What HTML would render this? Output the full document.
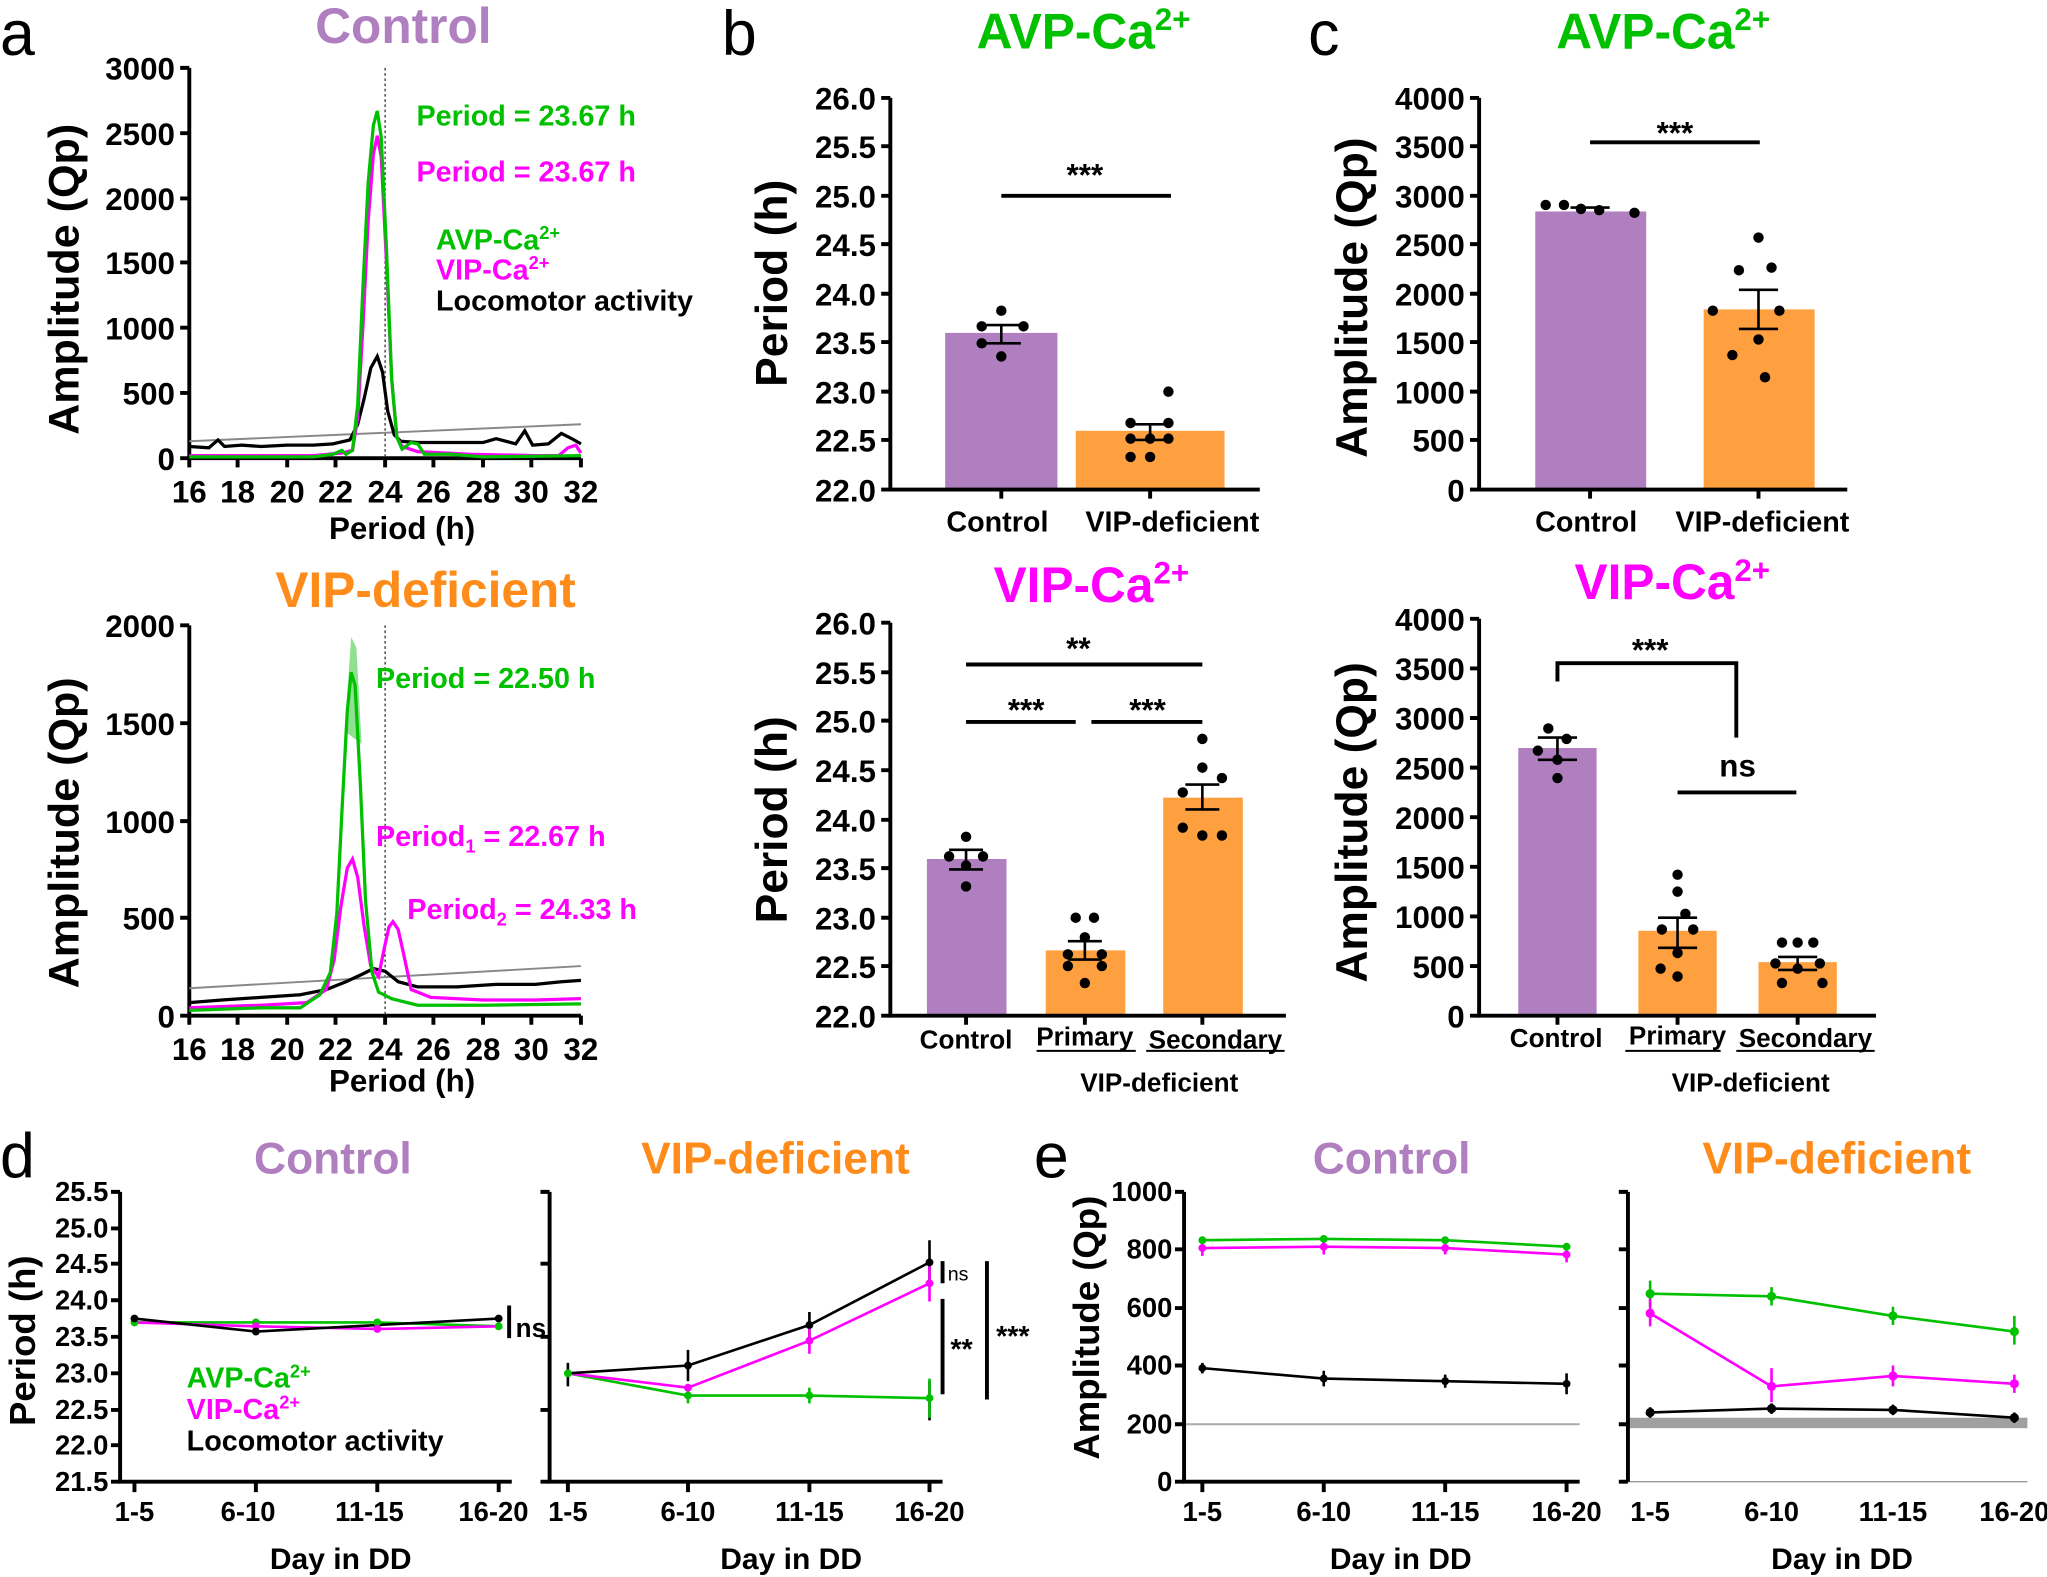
<!DOCTYPE html>
<html><head><meta charset="utf-8"><style>
html,body{margin:0;padding:0;background:#fff;}
svg{display:block;}
text{font-family:"Liberation Sans",sans-serif;font-weight:bold;}
</style></head><body>
<svg width="2047" height="1577" viewBox="0 0 1568 1208" preserveAspectRatio="none" xmlns="http://www.w3.org/2000/svg">
<g fill="#000">
<text x="0" y="42" font-size="48" style="font-weight:normal">a</text>
<text x="553" y="42" font-size="48" style="font-weight:normal">b</text>
<text x="1002" y="42" font-size="48" style="font-weight:normal">c</text>
<text x="0" y="902" font-size="48" style="font-weight:normal">d</text>
<text x="792" y="902" font-size="48" style="font-weight:normal">e</text>
</g>

<!-- ===== Panel a top ===== -->
<text x="309" y="33" font-size="38" fill="#b07fc0" text-anchor="middle">Control</text>
<g stroke="#000" stroke-width="3" fill="none">
<path d="M145,52 V351 H445"/>
<path d="M138,52H145M138,102H145M138,152H145M138,201H145M138,251H145M138,301H145M138,351H145"/>
<path d="M145,351v7M182,351v7M220,351v7M257,351v7M295,351v7M332,351v7M370,351v7M407,351v7M445,351v7"/>
</g>
<g font-size="24" text-anchor="end">
<text x="134" y="61">3000</text><text x="134" y="111">2500</text><text x="134" y="161">2000</text>
<text x="134" y="210">1500</text><text x="134" y="260">1000</text><text x="134" y="310">500</text><text x="134" y="360">0</text>
</g>
<g font-size="24" text-anchor="middle">
<text x="145" y="385">16</text><text x="182" y="385">18</text><text x="220" y="385">20</text><text x="257" y="385">22</text>
<text x="295" y="385">24</text><text x="332" y="385">26</text><text x="370" y="385">28</text><text x="407" y="385">30</text><text x="445" y="385">32</text>
<text x="308" y="413">Period (h)</text>
</g>
<text transform="translate(60,214) rotate(-90)" font-size="33" text-anchor="middle">Amplitude (Qp)</text>
<line x1="295" y1="52" x2="295" y2="351" stroke="#333" stroke-width="1" stroke-dasharray="2,2"/>
<line x1="145" y1="338" x2="445" y2="325" stroke="#888" stroke-width="1.5"/>
<polyline fill="none" stroke="#000" stroke-width="2.5" points="145,342 160,343 167,337 172,342 185,341 200,342 220,341 240,341 255,340 268,337 274,325 279,305 284,282 289,273 293,285 297,315 302,333 307,338 320,339 350,339 370,339 380,336 395,340 402,330 408,341 420,340 430,332 438,336 445,340"/>
<polyline fill="none" stroke="#ff00ff" stroke-width="2.5" points="145,349 200,349 240,349 262,347 270,345 274,320 278,250 282,170 286,118 289,104 292,120 296,200 300,290 304,335 308,342 320,346 360,348 410,349 428,349 435,343 441,341 445,347"/>
<polyline fill="none" stroke="#00c000" stroke-width="2.5" points="145,350 200,350 240,350 255,348 262,345 265,348 270,345 274,310 278,220 282,140 286,96 289,85 292,105 296,190 300,290 304,335 308,344 315,339 320,340 325,348 345,348 370,350 445,349"/>
<g font-size="22">
<text x="319" y="96" fill="#00c000">Period = 23.67 h</text>
<text x="319" y="139" fill="#ff00ff">Period = 23.67 h</text>
<text x="334" y="191" fill="#00c000">AVP-Ca<tspan font-size="14" dy="-8">2+</tspan></text>
<text x="334" y="214" fill="#ff00ff">VIP-Ca<tspan font-size="14" dy="-8">2+</tspan></text>
<text x="334" y="238" fill="#000">Locomotor activity</text>
</g>

<!-- ===== Panel a bottom ===== -->
<text x="326" y="465" font-size="38" fill="#ff8c1a" text-anchor="middle">VIP-deficient</text>
<g stroke="#000" stroke-width="3" fill="none">
<path d="M145,479 V778 H445"/>
<path d="M138,479H145M138,554H145M138,629H145M138,703H145M138,778H145"/>
<path d="M145,778v7M182,778v7M220,778v7M257,778v7M295,778v7M332,778v7M370,778v7M407,778v7M445,778v7"/>
</g>
<g font-size="24" text-anchor="end">
<text x="134" y="488">2000</text><text x="134" y="563">1500</text><text x="134" y="638">1000</text><text x="134" y="712">500</text><text x="134" y="787">0</text>
</g>
<g font-size="24" text-anchor="middle">
<text x="145" y="812">16</text><text x="182" y="812">18</text><text x="220" y="812">20</text><text x="257" y="812">22</text>
<text x="295" y="812">24</text><text x="332" y="812">26</text><text x="370" y="812">28</text><text x="407" y="812">30</text><text x="445" y="812">32</text>
<text x="308" y="836">Period (h)</text>
</g>
<text transform="translate(60,638) rotate(-90)" font-size="33" text-anchor="middle">Amplitude (Qp)</text>
<line x1="295" y1="479" x2="295" y2="778" stroke="#333" stroke-width="1" stroke-dasharray="2,2"/>
<line x1="145" y1="757" x2="445" y2="740" stroke="#888" stroke-width="1.5"/>
<path d="M264,560 L269,488 L273,496 L277,570 Z" fill="#90e090"/>
<polyline fill="none" stroke="#000" stroke-width="2.5" points="145,768 170,766 200,764 230,762 250,758 265,752 278,746 286,742 295,744 305,752 320,756 350,756 380,754 410,754 430,752 445,751"/>
<polyline fill="none" stroke="#ff00ff" stroke-width="2.5" points="145,772 200,770 235,768 250,758 256,735 261,695 266,665 270,658 274,672 279,710 284,740 290,748 294,728 298,710 301,706 305,712 309,730 315,758 330,764 370,766 410,766 445,765"/>
<polyline fill="none" stroke="#00c000" stroke-width="2.5" points="145,774 200,772 230,772 245,762 253,745 258,700 262,620 266,545 269,515 272,525 276,600 280,690 285,745 290,760 300,765 320,770 370,770 445,769"/>
<g font-size="22">
<text x="288" y="527" fill="#00c000">Period = 22.50 h</text>
<text x="288" y="648" fill="#ff00ff">Period<tspan font-size="14" dy="5">1</tspan><tspan dy="-5"> = 22.67 h</tspan></text>
<text x="312" y="704" fill="#ff00ff">Period<tspan font-size="14" dy="5">2</tspan><tspan dy="-5"> = 24.33 h</tspan></text>
</g>

<!-- ===== Panel b top ===== -->
<text x="830" y="37" font-size="38" fill="#00c000" text-anchor="middle">AVP-Ca<tspan font-size="24" dy="-14">2+</tspan></text>
<rect x="724" y="255" width="86" height="120" fill="#b07fc0"/>
<rect x="824" y="330" width="114" height="45" fill="#ffa040"/>
<g stroke="#000" stroke-width="3" fill="none">
<path d="M682,75 V375 H965"/>
<path d="M675,75H682M675,112H682M675,150H682M675,187H682M675,225H682M675,262H682M675,300H682M675,337H682M675,375H682"/>
<path d="M767,375v7M881,375v7"/>
<path d="M767,150H897"/>
<path d="M767,249V263M752,249H782M752,263H782M881,325V337M866,325H896M866,337H896" stroke-width="2"/>
</g>
<g fill="#000">
<circle cx="767" cy="238" r="4"/><circle cx="752" cy="250" r="4"/><circle cx="784" cy="250" r="4"/><circle cx="752" cy="263" r="4"/><circle cx="767" cy="273" r="4"/>
<circle cx="895" cy="300" r="4"/><circle cx="866" cy="324" r="4"/><circle cx="895" cy="324" r="4"/><circle cx="866" cy="336" r="4"/><circle cx="881" cy="336" r="4"/><circle cx="895" cy="336" r="4"/><circle cx="866" cy="350" r="4"/><circle cx="881" cy="350" r="4"/>
</g>
<text x="831" y="142" font-size="24" text-anchor="middle">***</text>
<g font-size="24" text-anchor="end">
<text x="671" y="84">26.0</text><text x="671" y="121">25.5</text><text x="671" y="159">25.0</text><text x="671" y="196">24.5</text>
<text x="671" y="234">24.0</text><text x="671" y="271">23.5</text><text x="671" y="309">23.0</text><text x="671" y="346">22.5</text><text x="671" y="384">22.0</text>
</g>
<g font-size="22" text-anchor="middle"><text x="764" y="407">Control</text><text x="898" y="407">VIP-deficient</text></g>
<text transform="translate(603,217) rotate(-90)" font-size="34" text-anchor="middle">Period (h)</text>

<!-- ===== Panel b bottom ===== -->
<text x="836" y="461" font-size="38" fill="#ff00ff" text-anchor="middle">VIP-Ca<tspan font-size="24" dy="-14">2+</tspan></text>
<rect x="710" y="658" width="61" height="120" fill="#b07fc0"/>
<rect x="801" y="728" width="61" height="50" fill="#ffa040"/>
<rect x="891" y="611" width="61" height="167" fill="#ffa040"/>
<g stroke="#000" stroke-width="3" fill="none">
<path d="M682,477 V778 H985"/>
<path d="M675,477H682M675,515H682M675,552H682M675,590H682M675,628H682M675,665H682M675,703H682M675,740H682M675,778H682"/>
<path d="M740,778v7M831,778v7M921,778v7"/>
<path d="M740,509H921M740,553H824M836,553H921"/>
<path d="M740,651V666M727,651H753M727,666H753M831,721V735M818,721H844M818,735H844M921,601V620M908,601H934M908,620H934" stroke-width="2"/>
</g>
<line x1="794" y1="805" x2="870" y2="805" stroke="#000" stroke-width="1.5"/>
<line x1="878" y1="805" x2="984" y2="805" stroke="#000" stroke-width="1.5"/>
<g fill="#000">
<circle cx="740" cy="641" r="4"/><circle cx="727" cy="656" r="4"/><circle cx="753" cy="656" r="4"/><circle cx="740" cy="663" r="4"/><circle cx="740" cy="679" r="4"/>
<circle cx="824" cy="703" r="4"/><circle cx="838" cy="703" r="4"/><circle cx="831" cy="718" r="4"/><circle cx="818" cy="731" r="4"/><circle cx="844" cy="731" r="4"/><circle cx="818" cy="740" r="4"/><circle cx="844" cy="740" r="4"/><circle cx="831" cy="753" r="4"/>
<circle cx="921" cy="566" r="4"/><circle cx="921" cy="588" r="4"/><circle cx="936" cy="596" r="4"/><circle cx="906" cy="607" r="4"/><circle cx="906" cy="634" r="4"/><circle cx="921" cy="640" r="4"/><circle cx="936" cy="640" r="4"/>
</g>
<g font-size="24" text-anchor="middle"><text x="826" y="505">**</text><text x="786" y="552">***</text><text x="879" y="552">***</text></g>
<g font-size="24" text-anchor="end">
<text x="671" y="486">26.0</text><text x="671" y="524">25.5</text><text x="671" y="561">25.0</text><text x="671" y="599">24.5</text>
<text x="671" y="637">24.0</text><text x="671" y="674">23.5</text><text x="671" y="712">23.0</text><text x="671" y="749">22.5</text><text x="671" y="787">22.0</text>
</g>
<g font-size="20" text-anchor="middle"><text x="740" y="803">Control</text><text x="831" y="801">Primary</text><text x="931" y="803">Secondary</text><text x="888" y="836">VIP-deficient</text></g>
<text transform="translate(603,628) rotate(-90)" font-size="34" text-anchor="middle">Period (h)</text>

<!-- ===== Panel c top ===== -->
<text x="1274" y="37" font-size="38" fill="#00c000" text-anchor="middle">AVP-Ca<tspan font-size="24" dy="-14">2+</tspan></text>
<rect x="1176" y="162" width="85" height="213" fill="#b07fc0"/>
<rect x="1305" y="237" width="85" height="138" fill="#ffa040"/>
<g stroke="#000" stroke-width="3" fill="none">
<path d="M1133,75 V375 H1415"/>
<path d="M1126,75H1133M1126,112H1133M1126,150H1133M1126,187H1133M1126,225H1133M1126,262H1133M1126,300H1133M1126,337H1133M1126,375H1133"/>
<path d="M1218,375v7M1347,375v7"/>
<path d="M1218,109H1348"/>
<path d="M1203,159H1233M1347,222V252M1332,222H1362M1332,252H1362" stroke-width="2"/>
</g>
<g fill="#000">
<circle cx="1184" cy="157" r="4"/><circle cx="1198" cy="157" r="4"/><circle cx="1211" cy="160" r="4"/><circle cx="1225" cy="161" r="4"/><circle cx="1252" cy="163" r="4"/>
<circle cx="1347" cy="182" r="4"/><circle cx="1332" cy="207" r="4"/><circle cx="1357" cy="205" r="4"/><circle cx="1312" cy="238" r="4"/><circle cx="1363" cy="238" r="4"/><circle cx="1347" cy="260" r="4"/><circle cx="1327" cy="272" r="4"/><circle cx="1352" cy="289" r="4"/>
</g>
<text x="1283" y="110" font-size="24" text-anchor="middle">***</text>
<g font-size="24" text-anchor="end">
<text x="1122" y="84">4000</text><text x="1122" y="121">3500</text><text x="1122" y="159">3000</text><text x="1122" y="196">2500</text>
<text x="1122" y="234">2000</text><text x="1122" y="271">1500</text><text x="1122" y="309">1000</text><text x="1122" y="346">500</text><text x="1122" y="384">0</text>
</g>
<g font-size="22" text-anchor="middle"><text x="1215" y="407">Control</text><text x="1350" y="407">VIP-deficient</text></g>
<text transform="translate(1047,228) rotate(-90)" font-size="34" text-anchor="middle">Amplitude (Qp)</text>

<!-- ===== Panel c bottom ===== -->
<text x="1281" y="459" font-size="38" fill="#ff00ff" text-anchor="middle">VIP-Ca<tspan font-size="24" dy="-14">2+</tspan></text>
<rect x="1163" y="573" width="60" height="205" fill="#b07fc0"/>
<rect x="1255" y="713" width="60" height="65" fill="#ffa040"/>
<rect x="1347" y="737" width="60" height="41" fill="#ffa040"/>
<g stroke="#000" stroke-width="3" fill="none">
<path d="M1133,474 V778 H1437"/>
<path d="M1126,474H1133M1126,512H1133M1126,550H1133M1126,588H1133M1126,626H1133M1126,664H1133M1126,702H1133M1126,740H1133M1126,778H1133"/>
<path d="M1193,778v7M1285,778v7M1377,778v7"/>
<path d="M1193,522V508H1330V565M1285,607H1376"/>
<path d="M1193,565V582M1178,565H1208M1178,582H1208M1285,703V726M1270,703H1300M1270,726H1300M1377,733V743M1362,733H1392M1362,743H1392" stroke-width="2"/>
</g>
<line x1="1245" y1="805" x2="1318" y2="805" stroke="#000" stroke-width="1.5"/>
<line x1="1330" y1="805" x2="1436" y2="805" stroke="#000" stroke-width="1.5"/>
<g fill="#000">
<circle cx="1186" cy="558" r="4"/><circle cx="1200" cy="566" r="4"/><circle cx="1178" cy="575" r="4"/><circle cx="1193" cy="582" r="4"/><circle cx="1193" cy="596" r="4"/>
<circle cx="1285" cy="670" r="4"/><circle cx="1285" cy="683" r="4"/><circle cx="1291" cy="700" r="4"/><circle cx="1273" cy="712" r="4"/><circle cx="1297" cy="712" r="4"/><circle cx="1285" cy="730" r="4"/><circle cx="1272" cy="742" r="4"/><circle cx="1285" cy="748" r="4"/>
<circle cx="1365" cy="722" r="4"/><circle cx="1377" cy="722" r="4"/><circle cx="1389" cy="722" r="4"/><circle cx="1360" cy="738" r="4"/><circle cx="1394" cy="738" r="4"/><circle cx="1377" cy="742" r="4"/><circle cx="1365" cy="753" r="4"/><circle cx="1396" cy="753" r="4"/>
</g>
<g font-size="24" text-anchor="middle"><text x="1264" y="506">***</text><text x="1331" y="595">ns</text></g>
<g font-size="24" text-anchor="end">
<text x="1122" y="483">4000</text><text x="1122" y="521">3500</text><text x="1122" y="559">3000</text><text x="1122" y="597">2500</text>
<text x="1122" y="635">2000</text><text x="1122" y="673">1500</text><text x="1122" y="711">1000</text><text x="1122" y="749">500</text><text x="1122" y="787">0</text>
</g>
<g font-size="20" text-anchor="middle"><text x="1192" y="802">Control</text><text x="1285" y="800">Primary</text><text x="1383" y="802">Secondary</text><text x="1341" y="836">VIP-deficient</text></g>
<text transform="translate(1047,630) rotate(-90)" font-size="34" text-anchor="middle">Amplitude (Qp)</text>

<!-- ===== Panel d ===== -->
<text x="255" y="899" font-size="34" fill="#b07fc0" text-anchor="middle">Control</text>
<text x="594" y="899" font-size="34" fill="#ff8c1a" text-anchor="middle">VIP-deficient</text>
<g stroke="#000" stroke-width="3" fill="none">
<path d="M92,913 V1135 H392"/>
<path d="M85,913H92M85,941H92M85,968H92M85,996H92M85,1024H92M85,1052H92M85,1080H92M85,1107H92M85,1135H92"/>
<path d="M103,1135v8M196,1135v8M289,1135v8M382,1135v8"/>
<path d="M421,913 V1135 H722"/>
<path d="M414,913H421M414,968H421M414,1024H421M414,1080H421M414,1135H421"/>
<path d="M435,1135v8M527,1135v8M620,1135v8M712,1135v8"/>
<path d="M390,1000V1025M722,966V983M722,995V1068M756,966V1072"/>
</g>
<g font-size="21" text-anchor="end">
<text x="83" y="920">25.5</text><text x="83" y="948">25.0</text><text x="83" y="975">24.5</text><text x="83" y="1003">24.0</text>
<text x="83" y="1031">23.5</text><text x="83" y="1059">23.0</text><text x="83" y="1087">22.5</text><text x="83" y="1114">22.0</text><text x="83" y="1142">21.5</text>
</g>
<g font-size="21" text-anchor="middle">
<text x="103" y="1165">1-5</text><text x="190" y="1165">6-10</text><text x="283" y="1165">11-15</text><text x="378" y="1165">16-20</text>
<text x="435" y="1165">1-5</text><text x="527" y="1165">6-10</text><text x="620" y="1165">11-15</text><text x="712" y="1165">16-20</text>
</g>
<g font-size="23" text-anchor="middle"><text x="261" y="1202">Day in DD</text><text x="606" y="1202">Day in DD</text></g>
<text transform="translate(27,1027) rotate(-90)" font-size="28" text-anchor="middle">Period (h)</text>
<g font-size="22">
<text x="143" y="1063" fill="#00c000">AVP-Ca<tspan font-size="14" dy="-8">2+</tspan></text>
<text x="143" y="1087" fill="#ff00ff">VIP-Ca<tspan font-size="14" dy="-8">2+</tspan></text>
<text x="143" y="1111" fill="#000">Locomotor activity</text>
</g>
<text x="395" y="1024" font-size="20">ns</text>
<text x="726" y="981" font-size="15" style="font-weight:normal">ns</text>
<text x="728" y="1041" font-size="22">**</text>
<text x="763" y="1031" font-size="22">***</text>
<g fill="none" stroke-width="2">
<polyline stroke="#00c000" points="103,1013 196,1013 289,1013 382,1016"/>
<polyline stroke="#ff00ff" points="103,1013 196,1016 289,1018 382,1016"/>
<polyline stroke="#000" points="103,1010 196,1020 289,1015 382,1010"/>
<polyline stroke="#00c000" points="435,1052 527,1069 620,1069 712,1071"/>
<polyline stroke="#ff00ff" points="435,1052 527,1063 620,1027 712,983"/>
<polyline stroke="#000" points="435,1052 527,1046 620,1015 712,967"/>
<path stroke="#000" d="M527,1034V1058M620,1005V1025M712,950V985M712,1058V1088M435,1044V1062"/>
<path stroke="#ff00ff" d="M620,1017V1037M712,970V997"/>
<path stroke="#00c000" d="M712,1056V1086M620,1063V1075M527,1063V1075"/>
</g>
<g fill="#00c000"><circle cx="103" cy="1013" r="3"/><circle cx="196" cy="1013" r="3"/><circle cx="289" cy="1013" r="3"/><circle cx="382" cy="1016" r="3"/><circle cx="435" cy="1052" r="3"/><circle cx="527" cy="1069" r="3"/><circle cx="620" cy="1069" r="3"/><circle cx="712" cy="1071" r="3"/></g>
<g fill="#ff00ff"><circle cx="196" cy="1016" r="3"/><circle cx="289" cy="1018" r="3"/><circle cx="527" cy="1063" r="3"/><circle cx="620" cy="1027" r="3"/><circle cx="712" cy="983" r="3"/></g>
<g fill="#000"><circle cx="103" cy="1010" r="3"/><circle cx="196" cy="1020" r="3"/><circle cx="382" cy="1010" r="3"/><circle cx="527" cy="1046" r="3"/><circle cx="620" cy="1015" r="3"/><circle cx="712" cy="967" r="3"/></g>

<!-- ===== Panel e ===== -->
<text x="1066" y="899" font-size="34" fill="#b07fc0" text-anchor="middle">Control</text>
<text x="1407" y="899" font-size="34" fill="#ff8c1a" text-anchor="middle">VIP-deficient</text>
<line x1="907" y1="1091" x2="1210" y2="1091" stroke="#aaa" stroke-width="1.5"/>
<rect x="1247" y="1086" width="306" height="8" fill="#a0a0a0"/>
<line x1="1247" y1="1135" x2="1553" y2="1135" stroke="#999" stroke-width="1"/>
<g stroke="#000" stroke-width="3" fill="none">
<path d="M907,913 V1135 H1210"/>
<path d="M900,913H907M900,957H907M900,1002H907M900,1046H907M900,1091H907M900,1135H907"/>
<path d="M921,1135v8M1014,1135v8M1107,1135v8M1200,1135v8"/>
<path d="M1247,913 V1135"/>
<path d="M1240,913H1247M1240,957H1247M1240,1002H1247M1240,1046H1247M1240,1091H1247M1240,1135H1247"/>
</g>
<g font-size="21" text-anchor="end">
<text x="898" y="920">1000</text><text x="898" y="964">800</text><text x="898" y="1009">600</text><text x="898" y="1053">400</text><text x="898" y="1098">200</text><text x="898" y="1142">0</text>
</g>
<g font-size="21" text-anchor="middle">
<text x="921" y="1165">1-5</text><text x="1014" y="1165">6-10</text><text x="1107" y="1165">11-15</text><text x="1200" y="1165">16-20</text>
<text x="1264" y="1165">1-5</text><text x="1357" y="1165">6-10</text><text x="1450" y="1165">11-15</text><text x="1543" y="1165">16-20</text>
</g>
<g font-size="23" text-anchor="middle"><text x="1073" y="1202">Day in DD</text><text x="1411" y="1202">Day in DD</text></g>
<text transform="translate(842,1017) rotate(-90)" font-size="28" text-anchor="middle">Amplitude (Qp)</text>
<g fill="none" stroke-width="2">
<polyline stroke="#00c000" points="921,950 1014,949 1107,950 1200,955"/>
<polyline stroke="#ff00ff" points="921,956 1014,955 1107,956 1200,961"/>
<polyline stroke="#000" points="921,1048 1014,1056 1107,1058 1200,1060"/>
<path stroke="#ff00ff" d="M921,951V962M1014,950V961M1107,951V961M1200,955V967"/>
<path stroke="#000" d="M921,1044V1052M1014,1050V1062M1107,1053V1063M1200,1052V1068"/>
<polyline stroke="#00c000" points="1264,991 1357,993 1450,1008 1543,1020"/>
<polyline stroke="#ff00ff" points="1264,1006 1357,1062 1450,1054 1543,1060"/>
<polyline stroke="#000" points="1264,1082 1357,1079 1450,1080 1543,1086"/>
<path stroke="#00c000" d="M1264,981V1000M1357,986V1000M1450,1001V1015M1543,1008V1030"/>
<path stroke="#ff00ff" d="M1264,995V1016M1357,1048V1074M1450,1046V1062M1543,1053V1067"/>
<path stroke="#000" d="M1264,1078V1086M1357,1075V1083M1450,1076V1084M1543,1082V1090"/>
</g>
<g fill="#00c000"><circle cx="921" cy="950" r="3"/><circle cx="1014" cy="949" r="3"/><circle cx="1107" cy="950" r="3"/><circle cx="1200" cy="955" r="3"/><circle cx="1264" cy="991" r="3.5"/><circle cx="1357" cy="993" r="3.5"/><circle cx="1450" cy="1008" r="3.5"/><circle cx="1543" cy="1020" r="3.5"/></g>
<g fill="#ff00ff"><circle cx="921" cy="956" r="3"/><circle cx="1014" cy="955" r="3"/><circle cx="1107" cy="956" r="3"/><circle cx="1200" cy="961" r="3"/><circle cx="1264" cy="1006" r="3.5"/><circle cx="1357" cy="1062" r="3.5"/><circle cx="1450" cy="1054" r="3.5"/><circle cx="1543" cy="1060" r="3.5"/></g>
<g fill="#000"><circle cx="921" cy="1048" r="3"/><circle cx="1014" cy="1056" r="3"/><circle cx="1107" cy="1058" r="3"/><circle cx="1200" cy="1060" r="3"/><circle cx="1264" cy="1082" r="3.5"/><circle cx="1357" cy="1079" r="3.5"/><circle cx="1450" cy="1080" r="3.5"/><circle cx="1543" cy="1086" r="3.5"/></g>
</svg>
</body></html>
